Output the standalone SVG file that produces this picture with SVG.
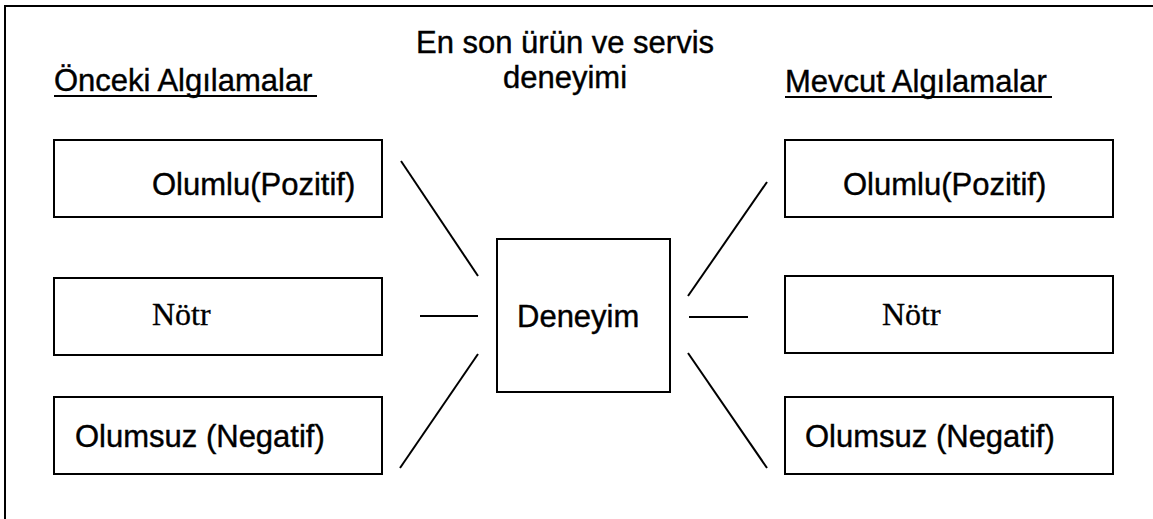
<svg xmlns="http://www.w3.org/2000/svg" width="1153" height="519" viewBox="0 0 1153 519">
  <style>
    .frame { fill: none; stroke: #000; stroke-width: 2; }
    .box { fill: #fff; stroke: #000; stroke-width: 2; }
    .link { stroke: #000; stroke-width: 2; fill: none; }
    .sans { font-family: "Liberation Sans", Arial, sans-serif; font-size: 31px; fill: #000; stroke: #000; stroke-width: 0.4; }
    .serif { font-family: "Liberation Serif", "Times New Roman", serif; font-size: 32px; fill: #000; stroke: #000; stroke-width: 0.3; }
  </style>
  <rect width="1153" height="519" fill="#fff"/>

  <!-- page frame (top and left edges) -->
  <path class="frame" d="M5,519 V6 H1153"/>

  <!-- titles -->
  <g id="title">
    <text class="sans" x="565" y="53" text-anchor="middle">En son ürün ve servis</text>
    <text class="sans" x="565" y="88" text-anchor="middle">deneyimi</text>
  </g>
  <g id="head-previous">
    <text class="sans" x="54" y="91">Önceki Algılamalar</text>
    <line class="link" x1="54" y1="96" x2="317" y2="96"/>
  </g>
  <g id="head-current">
    <text class="sans" x="785" y="92">Mevcut Algılamalar</text>
    <line class="link" x1="785" y1="97" x2="1052" y2="97"/>
  </g>

  <!-- connectors -->
  <g id="connectors">
    <line class="link" x1="401" y1="161" x2="478" y2="276"/>
    <line class="link" x1="420" y1="316" x2="478" y2="316"/>
    <line class="link" x1="478" y1="354" x2="400" y2="468"/>
    <line class="link" x1="688" y1="296" x2="767" y2="182"/>
    <line class="link" x1="689" y1="317" x2="748" y2="317"/>
    <line class="link" x1="688" y1="353" x2="767" y2="468"/>
  </g>

  <!-- previous perceptions -->
  <g id="prev-positive">
    <rect class="box" x="54" y="140" width="328" height="77"/>
    <text class="sans" x="152" y="195">Olumlu(Pozitif)</text>
  </g>
  <g id="prev-neutral">
    <rect class="box" x="54" y="278" width="328" height="77"/>
    <text class="serif" x="152" y="325">Nötr</text>
  </g>
  <g id="prev-negative">
    <rect class="box" x="54" y="397" width="328" height="77"/>
    <text class="sans" x="75" y="447">Olumsuz (Negatif)</text>
  </g>

  <!-- experience -->
  <g id="experience">
    <rect class="box" x="497" y="239" width="173" height="153"/>
    <text class="sans" x="517" y="327">Deneyim</text>
  </g>

  <!-- current perceptions -->
  <g id="cur-positive">
    <rect class="box" x="785" y="140" width="328" height="77"/>
    <text class="sans" x="843" y="195">Olumlu(Pozitif)</text>
  </g>
  <g id="cur-neutral">
    <rect class="box" x="785" y="276" width="328" height="77"/>
    <text class="serif" x="882" y="325">Nötr</text>
  </g>
  <g id="cur-negative">
    <rect class="box" x="785" y="397" width="328" height="77"/>
    <text class="sans" x="805" y="447">Olumsuz (Negatif)</text>
  </g>
</svg>
